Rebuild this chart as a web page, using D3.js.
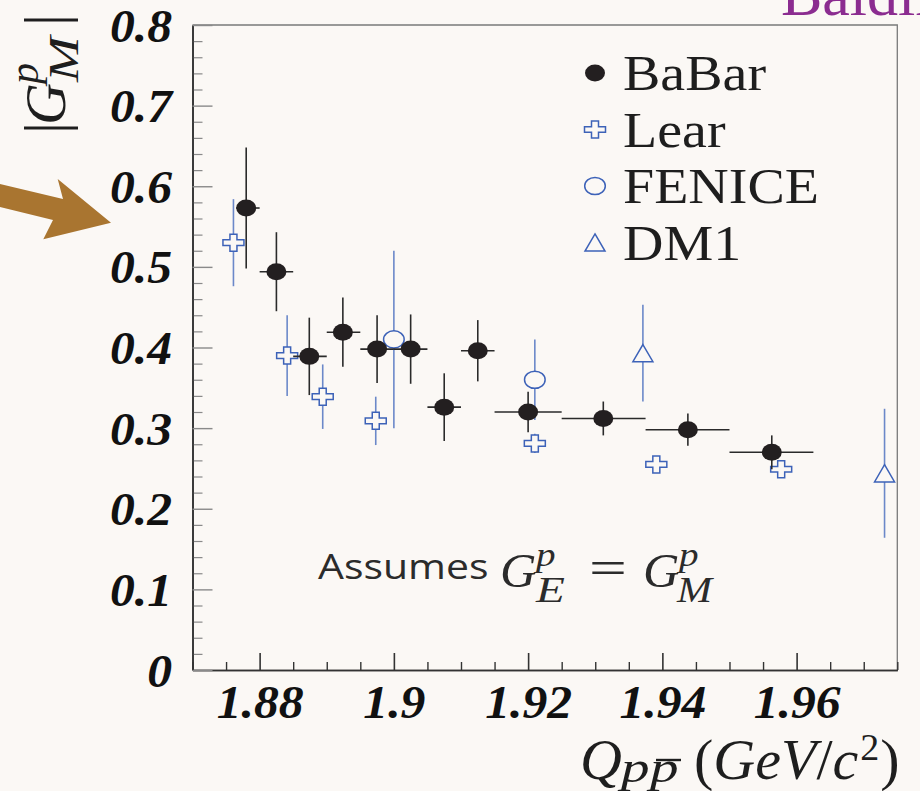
<!DOCTYPE html>
<html>
<head>
<meta charset="utf-8">
<script src="https://cdn.jsdelivr.net/npm/d3@7/dist/d3.min.js"></script>
<style>
  html, body { margin: 0; padding: 0; background: #fbf8f5; }
  svg { display: block; }
</style>
</head>
<body>
<svg id="chart" width="920" height="791"></svg>
<script>
// |G_M^p| of the proton versus p-pbar invariant mass

const xTicks = [1.88, 1.90, 1.92, 1.94, 1.96];
const xTickLabels = ["1.88", "1.9", "1.92", "1.94", "1.96"];
const yTicks = [0, 0.1, 0.2, 0.3, 0.4, 0.5, 0.6, 0.7, 0.8];
const yTickLabels = ["0", "0.1", "0.2", "0.3", "0.4", "0.5", "0.6", "0.7", "0.8"];

// BaBar: bin centre, bin edges, value, error
const babarQ   = [1.8780, 1.8825, 1.8874, 1.8924, 1.8975, 1.9025, 1.9075, 1.9125, 1.9200, 1.9312, 1.9438, 1.9563];
const babarLo  = [1.8765, 1.8800, 1.8850, 1.8900, 1.8950, 1.9000, 1.9050, 1.9100, 1.9150, 1.9250, 1.9375, 1.9500];
const babarHi  = [1.8800, 1.8850, 1.8900, 1.8950, 1.9000, 1.9050, 1.9100, 1.9150, 1.9250, 1.9375, 1.9500, 1.9625];
const babarG   = [0.573, 0.494, 0.389, 0.419, 0.398, 0.398, 0.326, 0.396, 0.320, 0.312, 0.298, 0.270];
const babarErr = [0.075, 0.049, 0.048, 0.043, 0.042, 0.043, 0.042, 0.038, 0.025, 0.021, 0.020, 0.021];

// Lear
const learQ   = [1.8761, 1.8841, 1.8894, 1.8973, 1.9210, 1.9391, 1.9577];
const learG   = [0.530, 0.390, 0.339, 0.309, 0.281, 0.255, 0.249];
const learErr = [0.054, 0.050, 0.040, 0.030, 0.012, 0.008, 0.008];

// FENICE
const feniceQ   = [1.9000, 1.9210];
const feniceG   = [0.410, 0.360];
const feniceErr = [0.110, 0.050];

// DM1
const dm1Q   = [1.9371, 1.9731];
const dm1G   = [0.393, 0.244];
const dm1Err = [0.060, 0.080];

const legendNames = ["BaBar", "Lear", "FENICE", "DM1"];

const BG = "#fbf8f5";
const INK = "#231f20";
const BLUE = "#3d62b8";
const BLUE_BAR = "#6b88c9";
const SERIF = "'Liberation Serif', 'Times New Roman', serif";

const svg = d3.select("#chart");
svg.append("rect").attr("width", 920).attr("height", 791).attr("fill", BG);

const x = d3.scaleLinear().domain([1.87, 1.975]).range([192.5, 897.3]);
const y = d3.scaleLinear().domain([0, 0.8]).range([670, 25]);

// frame: top and right edges
svg.append("path")
  .attr("d", `M${x(1.87)},${y(0.8)}H${x(1.975)}V${y(0)}`)
  .attr("fill", "none").attr("stroke", "#7a7a7a").attr("stroke-width", 1.3);

// ---- axes ----
const minorX = d3.range(0, 22).map(i => +(1.87 + i * 0.005).toFixed(3)).filter(v => !xTicks.some(t => Math.abs(t - v) < 1e-6));
const minorY = d3.range(0, 41).map(i => +(i * 0.02).toFixed(2)).filter(v => !yTicks.some(t => Math.abs(t - v) < 1e-6));

const gxMinor = svg.append("g").attr("transform", `translate(0,${y(0)})`)
  .call(d3.axisBottom(x).tickValues(minorX).tickSize(-8).tickSizeOuter(0).tickFormat(""));
const gx = svg.append("g").attr("transform", `translate(0,${y(0)})`)
  .call(d3.axisBottom(x).tickValues(xTicks).tickSize(-17).tickSizeOuter(0)
    .tickFormat((d, i) => xTickLabels[i]));

const gyMinor = svg.append("g").attr("transform", `translate(${x(1.87)},0)`)
  .call(d3.axisLeft(y).tickValues(minorY).tickSize(-10).tickSizeOuter(0).tickFormat(""));
const gy = svg.append("g").attr("transform", `translate(${x(1.87)},0)`)
  .call(d3.axisLeft(y).tickValues(yTicks).tickSize(-20).tickSizeOuter(0)
    .tickFormat((d, i) => yTickLabels[i]));

[gxMinor, gx, gyMinor, gy].forEach(g => {
  g.select(".domain").attr("stroke", "#333").attr("stroke-width", 1.6);
});
gxMinor.selectAll(".tick line").attr("stroke", "#333").attr("stroke-width", 1.4);
gx.selectAll(".tick line").attr("stroke", "#333").attr("stroke-width", 1.6);
gyMinor.selectAll(".tick line").attr("stroke", "#8a8a8a").attr("stroke-width", 1.2);
gy.selectAll(".tick line").attr("stroke", "#8a8a8a").attr("stroke-width", 1.4);

const SX_TICK = 1.08;
gx.selectAll(".tick text")
  .attr("y", 48).attr("dy", null)
  .attr("transform", `scale(${SX_TICK},1)`)
  .attr("font-family", SERIF)
  .attr("font-style", "italic").attr("font-weight", "bold")
  .attr("font-size", 46).attr("fill", "#111");
gy.selectAll(".tick text")
  .attr("x", -20.5 / SX_TICK).attr("y", 16).attr("dy", null)
  .attr("transform", `scale(${SX_TICK},1)`)
  .attr("font-family", SERIF)
  .attr("font-style", "italic").attr("font-weight", "bold")
  .attr("font-size", 46).attr("fill", "#111");

// ---- marker shapes ----
const RX = 10, RY = 8.5;
function crossPath(a, b) {
  const t = a / 3, u = b / 3;
  return `M${-t},${-b}L${t},${-b}L${t},${-u}L${a},${-u}L${a},${u}L${t},${u}L${t},${b}L${-t},${b}L${-t},${u}L${-a},${u}L${-a},${-u}L${-t},${-u}Z`;
}
function trianglePath(a, b) {
  return `M0,${-b}L${a},${b}L${-a},${b}Z`;
}
function drawMarker(g, kind) {
  if (kind === "babar") {
    g.append("ellipse").attr("rx", RX).attr("ry", RY).attr("fill", INK);
  } else if (kind === "lear") {
    g.append("path").attr("d", crossPath(10.5, 8.5)).attr("fill", BG)
      .attr("stroke", BLUE).attr("stroke-width", 1.5);
  } else if (kind === "fenice") {
    g.append("ellipse").attr("rx", 10.3).attr("ry", 8.6).attr("fill", BG)
      .attr("stroke", BLUE).attr("stroke-width", 1.5);
  } else {
    g.append("path").attr("d", trianglePath(10, 8.6)).attr("fill", BG)
      .attr("stroke", BLUE).attr("stroke-width", 1.5);
  }
}

const plot = svg.append("g");

// blue data sets (drawn first, BaBar on top)
function blueSeries(qs, gs, errs, kind) {
  const data = qs.map((q, i) => ({ q, g: gs[i], e: errs[i] }));
  plot.append("g").selectAll("line").data(data).join("line")
    .attr("x1", d => x(d.q)).attr("x2", d => x(d.q))
    .attr("y1", d => y(d.g + d.e)).attr("y2", d => y(d.g - d.e))
    .attr("stroke", BLUE_BAR).attr("stroke-width", 1.6);
  plot.append("g").selectAll("g").data(data).join("g")
    .attr("transform", d => `translate(${x(d.q)},${y(d.g)})`)
    .each(function () { drawMarker(d3.select(this), kind); });
}
blueSeries(learQ, learG, learErr, "lear");
blueSeries(feniceQ, feniceG, feniceErr, "fenice");
blueSeries(dm1Q, dm1G, dm1Err, "dm1");

const babar = babarQ.map((q, i) => ({ q, lo: babarLo[i], hi: babarHi[i], g: babarG[i], e: babarErr[i] }));
const bg = plot.append("g");
bg.selectAll("line.h").data(babar).join("line").attr("class", "h")
  .attr("x1", d => x(d.lo)).attr("x2", d => x(d.hi))
  .attr("y1", d => y(d.g)).attr("y2", d => y(d.g))
  .attr("stroke", "#2a2a2a").attr("stroke-width", 1.6);
bg.selectAll("line.v").data(babar).join("line").attr("class", "v")
  .attr("x1", d => x(d.q)).attr("x2", d => x(d.q))
  .attr("y1", d => y(d.g + d.e)).attr("y2", d => y(d.g - d.e))
  .attr("stroke", "#2a2a2a").attr("stroke-width", 1.6);
bg.selectAll("ellipse").data(babar).join("ellipse")
  .attr("cx", d => x(d.q)).attr("cy", d => y(d.g))
  .attr("rx", RX).attr("ry", RY).attr("fill", INK);

// ---- legend ----
const legendKinds = ["babar", "lear", "fenice", "dm1"];
const leg = svg.append("g");
legendNames.forEach((name, i) => {
  const base = 90 + i * 56.5;
  drawMarker(leg.append("g").attr("transform", `translate(595,${base - 17})`), legendKinds[i]);
  leg.append("text")
    .attr("transform", `translate(623,${base}) scale(1.12,1)`)
    .attr("font-family", SERIF)
    .attr("font-size", 50).attr("fill", "#1e1e1e")
    .text(name);
});

// a glyph run at a given place and size, widened by sx
function glyph(parent, gx0, base, str, size, opts = {}) {
  const t = parent.append("text")
    .attr("transform", `translate(${gx0},${base}) scale(${opts.sx || 1},1)`)
    .attr("font-family", SERIF)
    .attr("font-size", size)
    .attr("fill", opts.fill || "#1e1e1e")
    .text(str);
  if (opts.italic) t.attr("font-style", "italic");
  return t;
}

// ---- annotation ----
svg.append("text")
  .attr("transform", "translate(318,579) scale(1.17,1)")
  .attr("font-family", "'Open Sans', 'Noto Sans', sans-serif")
  .attr("font-size", 35).attr("fill", "#2b2b2b")
  .text("Assumes");

const note = svg.append("g");
const NC = "#2b2b2b";
glyph(note, 500, 587, "G", 48, { italic: true, sx: 1.05, fill: NC });
glyph(note, 536, 566, "p", 34, { italic: true, sx: 1.15, fill: NC });
glyph(note, 536, 602, "E", 35, { italic: true, sx: 1.35, fill: NC });
glyph(note, 589, 584, "=", 48, { sx: 1.4, fill: NC });
glyph(note, 643, 587, "G", 48, { italic: true, sx: 1.05, fill: NC });
glyph(note, 679, 566, "p", 34, { italic: true, sx: 1.15, fill: NC });
glyph(note, 677, 602, "M", 35, { italic: true, sx: 1.2, fill: NC });

// ---- axis titles ----
const xt = svg.append("g");
glyph(xt, 580, 779, "Q", 58, { italic: true });
glyph(xt, 621, 782, "p", 44, { italic: true, sx: 1.3 });
glyph(xt, 650, 782, "p", 44, { italic: true, sx: 1.3 });
xt.append("line").attr("x1", 656).attr("x2", 681).attr("y1", 760).attr("y2", 760)
  .attr("stroke", "#1e1e1e").attr("stroke-width", 2.4);
const XSX = 1.0;
const xtMain = xt.append("text")
  .attr("transform", `translate(694,779) scale(${XSX},1)`)
  .attr("font-family", SERIF).attr("font-size", 58).attr("fill", "#1e1e1e");
xtMain.append("tspan").text("(");
xtMain.append("tspan").attr("font-style", "italic").text("GeV");
xtMain.append("tspan").text("/");
xtMain.append("tspan").attr("font-style", "italic").text("c");
{
  const end = 694 + xtMain.node().getComputedTextLength() * XSX;
  const two = glyph(xt, end + 2, 760, "2", 38);
  const twoEnd = end + 2 + two.node().getComputedTextLength();
  glyph(xt, twoEnd + 1, 779, ")", 58);
}

const yt = svg.append("g").attr("transform", "translate(65,134) rotate(-90)");
glyph(yt, 0, 0, "|", 60);
glyph(yt, 9, 0, "G", 58, { italic: true });
glyph(yt, 50, -27, "p", 40, { italic: true, sx: 1.05 });
glyph(yt, 52, 13, "M", 42, { italic: true, sx: 1.3 });
glyph(yt, 108, 0, "|", 60);

// ---- pointer arrow ----
svg.append("path")
  .attr("d", "M0,184L63,199L57.7,179L111,222.7L43.3,239.3L53,220L0,207Z")
  .attr("fill", "#a97530");

// ---- speaker name, top right ----
svg.append("text")
  .attr("x", 781).attr("y", 15)
  .attr("font-family", SERIF)
  .attr("font-size", 62).attr("fill", "#8b2c90")
  .text("Baldini");
</script>
</body>
</html>
